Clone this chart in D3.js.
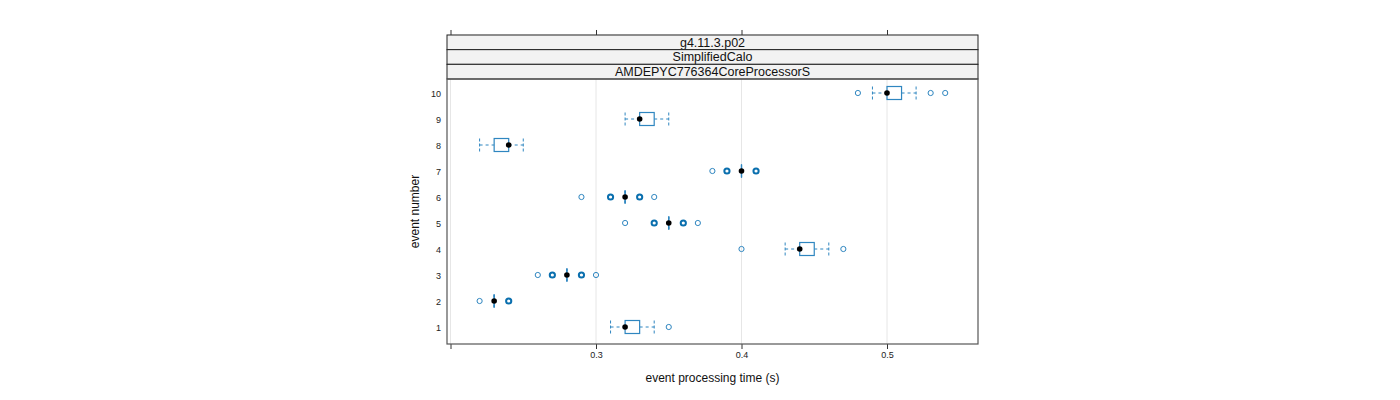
<!DOCTYPE html>
<html>
<head>
<meta charset="utf-8">
<script src="https://cdn.jsdelivr.net/npm/d3@7"></script>
<style>
  body { margin: 0; background: #fff; }
  text { font-family: "Liberation Sans", Arial, sans-serif; }
</style>
</head>
<body>
<div id="chart"></div>
<script>
const strips = ["g4.11.3.p02", "SimplifiedCalo", "AMDEPYC776364CoreProcessorS"];
const events = [1, 2, 3, 4, 5, 6, 7, 8, 9, 10];
const medians = [0.32, 0.23, 0.28, 0.44, 0.35, 0.32, 0.40, 0.24, 0.33, 0.50];
const q1 = [0.32, 0.23, 0.28, 0.44, 0.35, 0.32, 0.40, 0.23, 0.33, 0.50];
const q3 = [0.33, 0.23, 0.28, 0.45, 0.35, 0.32, 0.40, 0.24, 0.34, 0.51];
const whiskLo = [0.31, 0.23, 0.28, 0.43, 0.35, 0.32, 0.40, 0.22, 0.32, 0.49];
const whiskHi = [0.34, 0.23, 0.28, 0.46, 0.35, 0.32, 0.40, 0.25, 0.35, 0.52];
const outliers = [
  [0.35],
  [0.22, 0.24, 0.24],
  [0.26, 0.27, 0.27, 0.29, 0.29, 0.30],
  [0.40, 0.47],
  [0.32, 0.34, 0.34, 0.36, 0.36, 0.37],
  [0.29, 0.31, 0.31, 0.33, 0.33, 0.34],
  [0.38, 0.39, 0.39, 0.41, 0.41],
  [],
  [],
  [0.48, 0.53, 0.54]
];
const xTicks = [0.2, 0.3, 0.4, 0.5];
const xLabels = ["", "0.3", "0.4", "0.5"];

const W = 1400, H = 400;
const panel = { left: 447, right: 978, top: 79, bottom: 344 };
const stripH = 14.67;
const blue = "#2f86c0";
const dark = "#0a6fae";

const svg = d3.select("#chart").append("svg")
  .attr("width", W)
  .attr("height", H);

const x = d3.scaleLinear()
  .domain([0.3, 0.5])
  .range([596, 887]);

const y = d3.scaleLinear()
  .domain([1, 10])
  .range([327, 93]);

// grid lines
svg.selectAll("line.grid")
  .data(xTicks)
  .enter()
  .append("line")
  .attr("x1", d => x(d)).attr("x2", d => x(d))
  .attr("y1", panel.top).attr("y2", panel.bottom)
  .attr("stroke", "#e6e6e6")
  .attr("stroke-width", 1);

// strips
const stripTop = panel.top - stripH * strips.length;
strips.forEach((s, i) => {
  const yy = stripTop + i * stripH;
  svg.append("rect")
    .attr("x", panel.left).attr("y", yy)
    .attr("width", panel.right - panel.left).attr("height", stripH)
    .attr("fill", "#f2f2f2")
    .attr("stroke", "#222")
    .attr("stroke-width", 1);
  svg.append("text")
    .attr("x", (panel.left + panel.right) / 2)
    .attr("y", yy + stripH / 2 + 4.5)
    .attr("text-anchor", "middle")
    .attr("font-size", 12.5)
    .attr("fill", "#111")
    .text(s);
});

// top and bottom ticks
const xAxisBottom = d3.axisBottom(x).tickValues(xTicks).tickSize(5).tickPadding(3)
  .tickFormat((d, i) => xLabels[i]);
const gb = svg.append("g")
  .attr("transform", `translate(0,${panel.bottom})`)
  .call(xAxisBottom);
gb.select(".domain").remove();
gb.selectAll("line").attr("stroke", "#333");
gb.selectAll("text").attr("font-size", 9).attr("fill", "#222")
  .style("font-family", "'Liberation Sans', Arial, sans-serif");

const gt = svg.append("g")
  .attr("transform", `translate(0,${stripTop})`)
  .call(d3.axisTop(x).tickValues(xTicks).tickSize(5).tickFormat(""));
gt.select(".domain").remove();
gt.selectAll("line").attr("stroke", "#333");

// y labels
svg.selectAll("text.ylab")
  .data(events)
  .enter()
  .append("text")
  .attr("x", 441)
  .attr("y", d => y(d) + 3.5)
  .attr("text-anchor", "end")
  .attr("font-size", 9)
  .attr("fill", "#222")
  .text(d => d);

// boxes
const bh = 6.5;
const g = svg.append("g");
events.forEach((e, i) => {
  const cy = y(e);
  // whiskers
  g.append("line")
    .attr("x1", x(whiskLo[i])).attr("x2", x(q1[i]))
    .attr("y1", cy).attr("y2", cy)
    .attr("stroke", blue).attr("stroke-dasharray", "3,3");
  g.append("line")
    .attr("x1", x(q3[i])).attr("x2", x(whiskHi[i]))
    .attr("y1", cy).attr("y2", cy)
    .attr("stroke", blue).attr("stroke-dasharray", "3,3");
  [whiskLo[i], whiskHi[i]].forEach(v => {
    g.append("line")
      .attr("x1", x(v)).attr("x2", x(v))
      .attr("y1", cy - bh).attr("y2", cy + bh)
      .attr("stroke", blue).attr("stroke-dasharray", "3,2");
  });
  g.append("rect")
    .attr("x", x(q1[i])).attr("y", cy - bh)
    .attr("width", x(q3[i]) - x(q1[i])).attr("height", bh * 2)
    .attr("fill", "none")
    .attr("stroke", blue).attr("stroke-width", 1.2);
  if (q3[i] === q1[i]) {
    g.append("line")
      .attr("x1", x(q1[i])).attr("x2", x(q1[i]))
      .attr("y1", cy - bh).attr("y2", cy + bh)
      .attr("stroke", blue).attr("stroke-width", 1.5);
  }
  // outliers
  const counts = d3.rollup(outliers[i], v => v.length, d => d);
  counts.forEach((n, v) => {
    g.append("circle")
      .attr("cx", x(v)).attr("cy", cy)
      .attr("r", 2.6)
      .attr("fill", "none")
      .attr("stroke", n > 1 ? dark : blue)
      .attr("stroke-width", n > 1 ? 2 : 1);
  });
  // median dot
  g.append("circle")
    .attr("cx", x(medians[i])).attr("cy", cy)
    .attr("r", 2.8)
    .attr("fill", "#000");
});

// panel border
svg.append("rect")
  .attr("x", panel.left).attr("y", panel.top)
  .attr("width", panel.right - panel.left).attr("height", panel.bottom - panel.top)
  .attr("fill", "none")
  .attr("stroke", "#555")
  .attr("stroke-width", 1.2);

// axis titles
svg.append("text")
  .attr("x", (panel.left + panel.right) / 2)
  .attr("y", 382)
  .attr("text-anchor", "middle")
  .attr("font-size", 12)
  .attr("fill", "#111")
  .text("event processing time (s)");

svg.append("text")
  .attr("transform", `translate(419,${(panel.top + panel.bottom) / 2}) rotate(-90)`)
  .attr("text-anchor", "middle")
  .attr("font-size", 12)
  .attr("fill", "#111")
  .text("event number");
</script>
</body>
</html>
